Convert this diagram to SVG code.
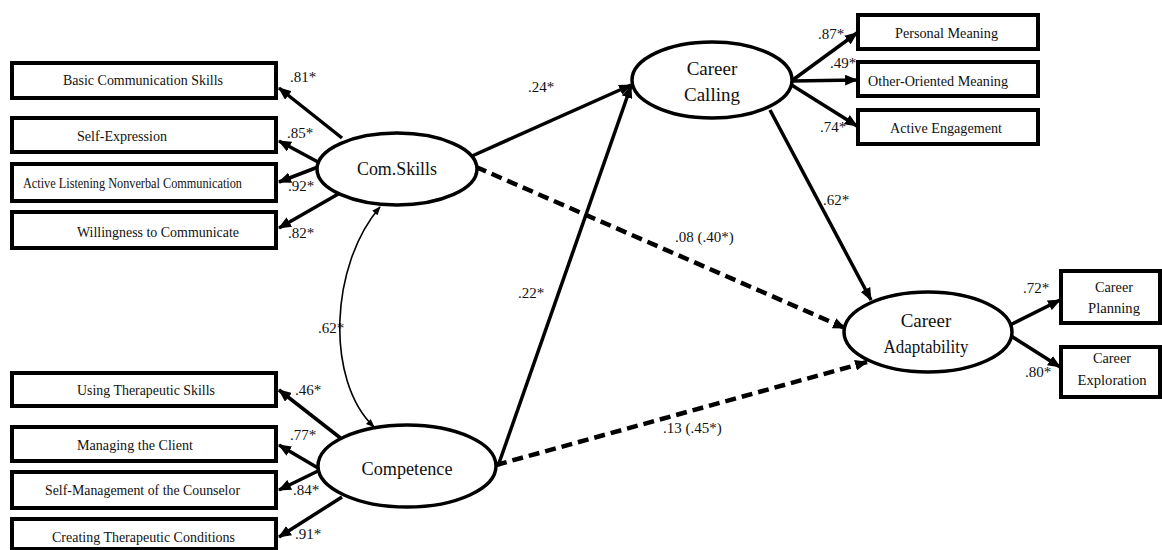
<svg xmlns="http://www.w3.org/2000/svg" width="1162" height="550" viewBox="0 0 1162 550">
<style>
.box{fill:#fff;stroke:#000;stroke-width:4}
.ell{fill:#fff;stroke:#000;stroke-width:3.5}
text{font-family:'Liberation Serif','DejaVu Serif',serif}
.bt{font-size:15px;fill:#111}
.et{font-size:19px;fill:#111;text-anchor:middle}
.lb{font-size:15px;fill:#111}
.ln{fill:none;stroke:#000;stroke-width:3.5}
.dl{fill:none;stroke:#000;stroke-width:4.5;stroke-dasharray:11 6}
.cv{fill:none;stroke:#000;stroke-width:1.6}
</style>
<defs>
<marker id="ah" viewBox="0 0 12 10" refX="11" refY="5" markerWidth="13" markerHeight="11" markerUnits="userSpaceOnUse" orient="auto"><path d="M0,0 L12,5 L0,10 z" fill="#000"/></marker>
<marker id="as" viewBox="0 0 10 8" refX="9" refY="4" markerWidth="9" markerHeight="7" markerUnits="userSpaceOnUse" orient="auto-start-reverse"><path d="M0,0 L10,4 L0,8 z" fill="#000"/></marker>
</defs>
<rect width="1162" height="550" fill="#fff"/>
<g id="connectors">
<path class="ln" d="M342,138 L279,88" marker-end="url(#ah)"/>
<path class="ln" d="M318,162 L279,141" marker-end="url(#ah)"/>
<path class="ln" d="M318,167 L279,182" marker-end="url(#ah)"/>
<path class="ln" d="M340,193 L279,228" marker-end="url(#ah)"/>
<path class="ln" d="M343,440 L279,390" marker-end="url(#ah)"/>
<path class="ln" d="M318,468 L279,445" marker-end="url(#ah)"/>
<path class="ln" d="M318,471 L279,490" marker-end="url(#ah)"/>
<path class="ln" d="M342,497 L279,537" marker-end="url(#ah)"/>
<path class="cv" d="M380,207 C330,265 325,380 374,427" marker-start="url(#as)" marker-end="url(#as)"/>
<path class="ln" d="M472,156 L631,85" marker-end="url(#ah)"/>
<path class="ln" d="M498,466 L631,86" marker-end="url(#ah)"/>
<path class="dl" d="M476,167 L845,328" marker-end="url(#ah)"/>
<path class="dl" d="M496,465 L867,362" marker-end="url(#ah)"/>
<path class="ln" d="M770,110 L871,300" marker-end="url(#ah)"/>
<path class="ln" d="M790,82 L857,33" marker-end="url(#ah)"/>
<path class="ln" d="M792,81 L857,80" marker-end="url(#ah)"/>
<path class="ln" d="M790,84 L857,126" marker-end="url(#ah)"/>
<path class="ln" d="M1008,326 L1060,300" marker-end="url(#ah)"/>
<path class="ln" d="M1008,334 L1060,367" marker-end="url(#ah)"/>
</g>
<g id="labels">
<text class="lb" x="290" y="82">.81*</text>
<text class="lb" x="287" y="138">.85*</text>
<text class="lb" x="288" y="191">.92*</text>
<text class="lb" x="288" y="238">.82*</text>
<text class="lb" x="295" y="395">.46*</text>
<text class="lb" x="290" y="440">.77*</text>
<text class="lb" x="293" y="495">.84*</text>
<text class="lb" x="295" y="539">.91*</text>
<text class="lb" x="818" y="39">.87*</text>
<text class="lb" x="830" y="68">.49*</text>
<text class="lb" x="820" y="132">.74*</text>
<text class="lb" x="1023" y="293">.72*</text>
<text class="lb" x="1025" y="377">.80*</text>
<text class="lb" x="318" y="333">.62*</text>
<text class="lb" x="518" y="298">.22*</text>
<text class="lb" x="528" y="92">.24*</text>
<text class="lb" x="675" y="242">.08 (.40*)</text>
<text class="lb" x="823" y="205">.62*</text>
<text class="lb" x="663" y="433">.13 (.45*)</text>
</g>
<g id="n-basic"><rect class="box" x="12" y="63" width="264" height="35"/><text class="bt" x="63" y="85" textLength="160" lengthAdjust="spacingAndGlyphs">Basic Communication Skills</text></g>
<g id="n-selfexp"><rect class="box" x="12" y="118" width="264" height="34"/><text class="bt" x="77" y="141" textLength="90" lengthAdjust="spacingAndGlyphs">Self-Expression</text></g>
<g id="n-active"><rect class="box" x="12" y="164" width="264" height="37"/><text class="bt" x="23" y="188" textLength="219" lengthAdjust="spacingAndGlyphs">Active Listening Nonverbal Communication</text></g>
<g id="n-willing"><rect class="box" x="12" y="212" width="264" height="36"/><text class="bt" x="77" y="237" textLength="162" lengthAdjust="spacingAndGlyphs">Willingness to Communicate</text></g>
<g id="n-using"><rect class="box" x="12" y="373" width="264" height="33"/><text class="bt" x="77" y="395" textLength="138" lengthAdjust="spacingAndGlyphs">Using Therapeutic Skills</text></g>
<g id="n-managing"><rect class="box" x="12" y="427" width="264" height="34"/><text class="bt" x="77" y="450" textLength="116" lengthAdjust="spacingAndGlyphs">Managing the Client</text></g>
<g id="n-selfman"><rect class="box" x="12" y="472" width="264" height="36"/><text class="bt" x="45" y="495" textLength="195" lengthAdjust="spacingAndGlyphs">Self-Management of the Counselor</text></g>
<g id="n-creating"><rect class="box" x="12" y="519" width="264" height="30"/><text class="bt" x="52" y="542" textLength="183" lengthAdjust="spacingAndGlyphs">Creating Therapeutic Conditions</text></g>
<g id="n-personal"><rect class="box" x="858" y="15" width="180" height="34"/><text class="bt" x="895" y="38" textLength="103" lengthAdjust="spacingAndGlyphs">Personal Meaning</text></g>
<g id="n-other"><rect class="box" x="858" y="62" width="180" height="34"/><text class="bt" x="868" y="86" textLength="140" lengthAdjust="spacingAndGlyphs">Other-Oriented Meaning</text></g>
<g id="n-engage"><rect class="box" x="858" y="110" width="180" height="34"/><text class="bt" x="890" y="133" textLength="112" lengthAdjust="spacingAndGlyphs">Active Engagement</text></g>
<g id="n-planning"><rect class="box" x="1061" y="271" width="99" height="52"/><text class="bt" x="1114" y="292" text-anchor="middle" textLength="38" lengthAdjust="spacingAndGlyphs">Career</text><text class="bt" x="1114" y="313" text-anchor="middle" textLength="52" lengthAdjust="spacingAndGlyphs">Planning</text></g>
<g id="n-exploration"><rect class="box" x="1061" y="347" width="99" height="50"/><text class="bt" x="1112" y="363" text-anchor="middle" textLength="38" lengthAdjust="spacingAndGlyphs">Career</text><text class="bt" x="1112" y="385" text-anchor="middle" textLength="69" lengthAdjust="spacingAndGlyphs">Exploration</text></g>
<g id="n-comskills"><ellipse class="ell" cx="397" cy="169" rx="80" ry="36"/><text class="et" x="397" y="175" textLength="80" lengthAdjust="spacingAndGlyphs">Com.Skills</text></g>
<g id="n-competence"><ellipse class="ell" cx="407" cy="466" rx="89" ry="41"/><text class="et" x="407" y="475" textLength="91" lengthAdjust="spacingAndGlyphs">Competence</text></g>
<g id="n-calling"><ellipse class="ell" cx="712" cy="80" rx="80" ry="38"/><text class="et" x="712" y="75">Career</text><text class="et" x="712" y="101">Calling</text></g>
<g id="n-adapt"><ellipse class="ell" cx="928" cy="332" rx="84" ry="40"/><text class="et" x="926" y="327">Career</text><text class="et" x="926" y="353" textLength="85" lengthAdjust="spacingAndGlyphs">Adaptability</text></g>
</svg>
